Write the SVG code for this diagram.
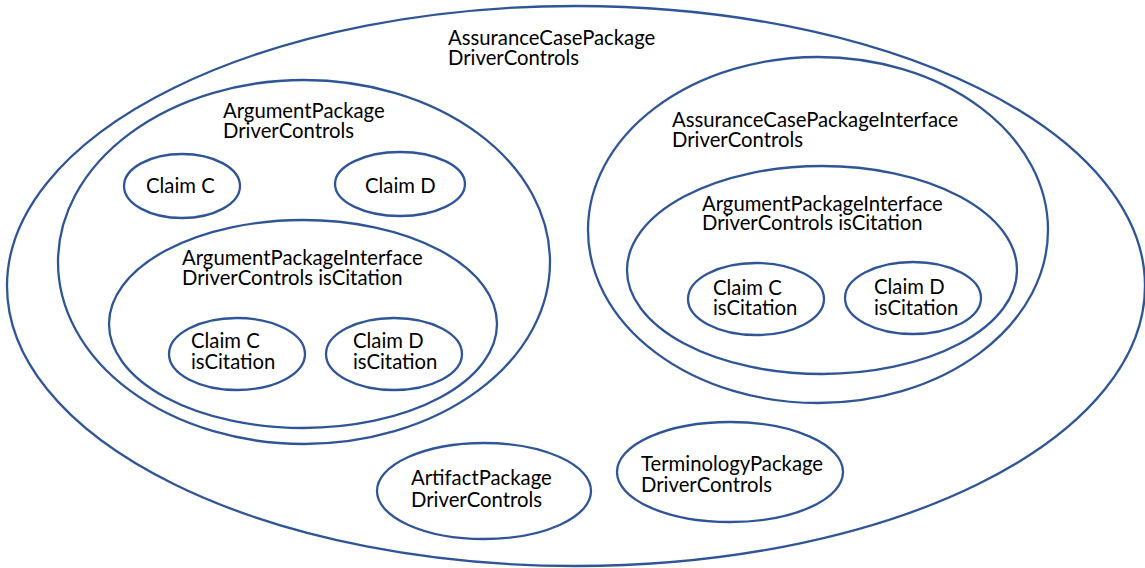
<svg xmlns="http://www.w3.org/2000/svg" width="1145" height="568" viewBox="0 0 1145 568">
<style>
.e{fill:none;stroke:#2F5597;stroke-width:2.3}
.t{font-family:Lato,"Open Sans","Liberation Sans",sans-serif;font-size:20.3px;fill:#000}
</style>
<rect width="1145" height="568" fill="#fff"/>
<g id="assurance-case-package">
<ellipse class="e" cx="576" cy="286" rx="569" ry="280"/>
<text class="t"><tspan x="448" y="45">AssuranceCasePackage</tspan><tspan x="448" y="65">DriverControls</tspan></text>
</g>
<g id="argument-package">
<ellipse class="e" cx="304" cy="262" rx="246" ry="182"/>
<text class="t"><tspan x="223" y="118">ArgumentPackage</tspan><tspan x="223" y="138">DriverControls</tspan></text>
</g>
<g id="claim-c">
<ellipse class="e" cx="182" cy="186" rx="58" ry="32"/>
<text class="t" x="146" y="193">Claim C</text>
</g>
<g id="claim-d">
<ellipse class="e" cx="400" cy="184" rx="65" ry="32"/>
<text class="t" x="365" y="193">Claim D</text>
</g>
<g id="argument-package-interface-left">
<ellipse class="e" cx="303" cy="324" rx="194" ry="104"/>
<text class="t"><tspan x="182" y="265">ArgumentPackageInterface</tspan><tspan x="182" y="285">DriverControls isCitation</tspan></text>
</g>
<g id="claim-c-citation-left">
<ellipse class="e" cx="237" cy="354" rx="68" ry="36"/>
<text class="t"><tspan x="191" y="348">Claim C</tspan><tspan x="191" y="369">isCitation</tspan></text>
</g>
<g id="claim-d-citation-left">
<ellipse class="e" cx="394" cy="354" rx="68" ry="36"/>
<text class="t"><tspan x="353" y="348">Claim D</tspan><tspan x="353" y="369">isCitation</tspan></text>
</g>
<g id="assurance-case-package-interface">
<ellipse class="e" cx="818" cy="230" rx="230" ry="173"/>
<text class="t"><tspan x="672" y="127">AssuranceCasePackageInterface</tspan><tspan x="672" y="147">DriverControls</tspan></text>
</g>
<g id="argument-package-interface-right">
<ellipse class="e" cx="822" cy="270" rx="195" ry="104"/>
<text class="t"><tspan x="702" y="211">ArgumentPackageInterface</tspan><tspan x="702" y="230">DriverControls isCitation</tspan></text>
</g>
<g id="claim-c-citation-right">
<ellipse class="e" cx="756" cy="299" rx="68" ry="36"/>
<text class="t"><tspan x="713" y="295">Claim C</tspan><tspan x="713" y="315">isCitation</tspan></text>
</g>
<g id="claim-d-citation-right">
<ellipse class="e" cx="913" cy="298" rx="68" ry="36"/>
<text class="t"><tspan x="874" y="294">Claim D</tspan><tspan x="874" y="315">isCitation</tspan></text>
</g>
<g id="artifact-package">
<ellipse class="e" cx="484" cy="491" rx="107" ry="48"/>
<text class="t"><tspan x="411" y="485">ArtifactPackage</tspan><tspan x="411" y="507">DriverControls</tspan></text>
</g>
<g id="terminology-package">
<ellipse class="e" cx="730" cy="472" rx="113" ry="50"/>
<text class="t"><tspan x="641" y="471">TerminologyPackage</tspan><tspan x="641" y="492">DriverControls</tspan></text>
</g>
<g id="connectors"></g>
</svg>
